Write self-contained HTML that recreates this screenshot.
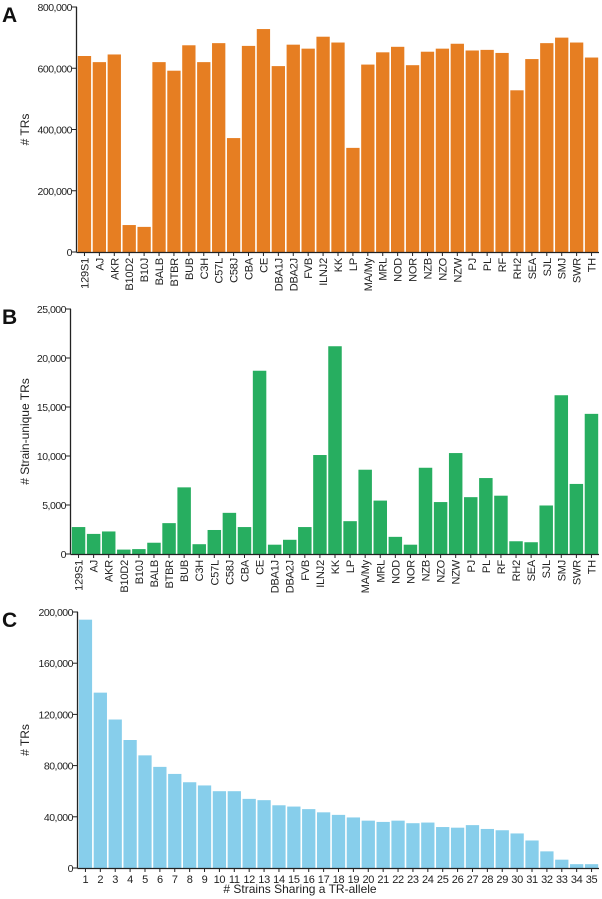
<!DOCTYPE html>
<html><head><meta charset="utf-8"><style>
html,body{margin:0;padding:0;background:#fff;}
svg{display:block;font-family:"Liberation Sans",Arial,sans-serif;}
</style></head><body>
<svg id="chart" width="602" height="899" xmlns="http://www.w3.org/2000/svg"></svg>
<script>
const strains = ["129S1","AJ","AKR","B10D2","B10J","BALB","BTBR","BUB","C3H","C57L","C58J","CBA","CE","DBA1J","DBA2J","FVB","ILNJ2","KK","LP","MA/My","MRL","NOD","NOR","NZB","NZO","NZW","PJ","PL","RF","RH2","SEA","SJL","SMJ","SWR","TH"];
const totalTRs = [640000,620000,645000,88000,82000,620000,592000,675000,620000,682000,372000,673000,728000,607000,677000,664000,703000,684000,340000,612000,652000,670000,610000,654000,664000,680000,658000,660000,650000,528000,630000,682000,700000,684000,635000];
const uniqueTRs = [2750,2050,2300,450,500,1150,3150,6800,1000,2450,4200,2750,18700,950,1450,2750,10100,21200,3350,8600,5450,1750,950,8800,5300,10300,5800,7750,5950,1300,1200,4950,16200,7150,14300];
const sharedCats = ["1","2","3","4","5","6","7","8","9","10","11","12","13","14","15","16","17","18","19","20","21","22","23","24","25","26","27","28","29","30","31","32","33","34","35"];
const sharedTRs = [194000,137000,116000,100000,88000,79000,73500,67000,64500,60000,60000,54000,53000,49000,48000,46000,43500,41500,39500,37000,36000,37000,35000,35500,32000,31500,33500,30500,29500,27000,21500,13000,6500,3000,3000];
const ticksA = [0,200000,400000,600000,800000];
const ticksB = [0,5000,10000,15000,20000,25000];
const ticksC = [0,40000,80000,120000,160000,200000];

const svg = document.getElementById('chart');
const NS = "http://www.w3.org/2000/svg";
function mk(tag, attrs, parent){const e=document.createElementNS(NS,tag);for(const k in attrs)e.setAttribute(k,attrs[k]);(parent||svg).appendChild(e);return e;}
function fmt(v){return v.toLocaleString('en-US');}

function panel(cfg){
  const g = mk('g',{});
  
  
  const {x0,x1,y0,y1,max,cats,vals,ticks,color,rotate} = cfg;
  const n = cats.length, bw = (x1-x0)/n;
  const ys = v => y0 - (v/max)*(y0-y1);
  const xs = i => x0 + i*bw;
  cats.forEach((c,i)=>{
    const r = mk('rect',{x:xs(i)+0.8,y:ys(vals[i]),width:bw-1.6,height:y0-ys(vals[i]),fill:color},g);
    
    
    const cx = xs(i)+bw/2;
    mk('line',{x1:cx,y1:y0,x2:cx,y2:y0+4,stroke:'#222','stroke-width':1},g);
    let t;
    if(rotate){
      t = mk('text',{x:0,y:0,transform:`translate(${cx+4},${y0+6}) rotate(-90)`,'text-anchor':'end','font-size':11,'letter-spacing':-0.2,fill:'#222'},g);
    } else {
      t = mk('text',{x:cx,y:y0+15,'text-anchor':'middle','font-size':11,'letter-spacing':-0.3,fill:'#222'},g);
    }
    t.textContent = c;
    
    
  });
  const ya = mk('line',{x1:x0-0.5,y1:y1,x2:x0-0.5,y2:y0+0.5,stroke:'#222','stroke-width':1.3},g);
  
  
  const xa = mk('line',{x1:x0-0.5,y1:y0+0.5,x2:x1,y2:y0+0.5,stroke:'#222','stroke-width':1.3},g);
  
  
  ticks.forEach(v=>{
    const y = ys(v);
    mk('line',{x1:x0-5,y1:y,x2:x0,y2:y,stroke:'#222','stroke-width':1},g);
    const t = mk('text',{x:x0-5,y:y+4,'text-anchor':'end','font-size':10.5,'letter-spacing':-0.5,fill:'#222'},g);
    t.textContent = fmt(v);
    
    
  });
  const yt = mk('text',{x:0,y:0,transform:`translate(${cfg.ytx},${(y0+y1)/2}) rotate(-90)`,'text-anchor':'middle','font-size':12,fill:'#222'},g);
  yt.textContent = cfg.ytitle;
  
  
  const lt = mk('text',{x:2,y:y1+15,'font-size':21,'font-weight':'bold',fill:'#111'},g);
  lt.textContent = cfg.letter;
  
  
  return g;
}

panel({name:'panel-a-total-trs',x0:77,x1:599,y0:252,y1:7,max:800000,cats:strains,vals:totalTRs,ticks:ticksA,color:'#e67e22',rotate:true,ytitle:'# TRs',ytx:29,letter:'A'});
panel({name:'panel-b-strain-unique',x0:71,x1:599,y0:554,y1:309,max:25000,cats:strains,vals:uniqueTRs,ticks:ticksB,color:'#27ae60',rotate:true,ytitle:'# Strain-unique TRs',ytx:29,letter:'B'});
panel({name:'panel-c-shared',x0:78,x1:599,y0:868,y1:612,max:200000,cats:sharedCats,vals:sharedTRs,ticks:ticksC,color:'#87ceeb',rotate:false,ytitle:'# TRs',ytx:29,letter:'C'});
const xt = mk('text',{x:300,y:893,'text-anchor':'middle','font-size':12,fill:'#222'});
xt.textContent = '# Strains Sharing a TR-allele';


</script>
</body></html>
